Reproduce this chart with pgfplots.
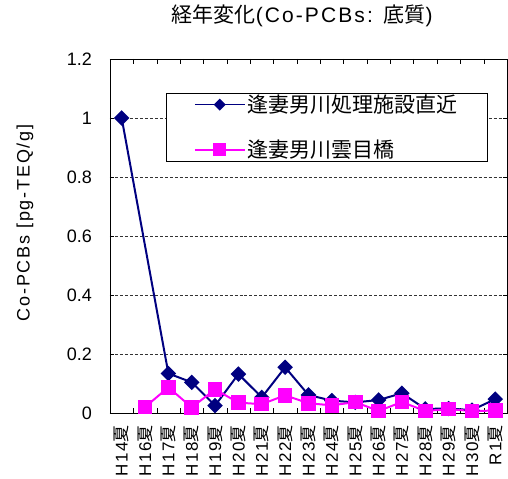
\documentclass[border=0pt]{standalone}
\usepackage{fontspec}
\setmainfont{Liberation Sans}
\newfontfamily\cjk{Noto Sans CJK JP}
\newfontfamily\wide{Liberation Sans}[LetterSpace=10]
\usepackage{pgfplots}
\pgfplotsset{compat=1.18}
\definecolor{navyc}{RGB}{0,0,128}
\definecolor{magc}{RGB}{255,0,255}
\newcommand{\nt}{{\cjk 夏}}
\begin{document}
\begin{tikzpicture}
\path[use as bounding box] (-110bp,-66bp) rectangle (398bp,413bp);
\begin{axis}[
  at={(0,0)}, anchor=south west,
  scale only axis, width=397bp, height=354bp,
  xmin=-0.5, xmax=16.5, ymin=0, ymax=1.2,
  xtick={0,...,16},
  xticklabels={H14\nt,H16\nt,H17\nt,H18\nt,H19\nt,H20\nt,H21\nt,H22\nt,H23\nt,H24\nt,H25\nt,H26\nt,H27\nt,H28\nt,H29\nt,H30\nt,R1\nt},
  xticklabel style={rotate=90, anchor=east, font=\fontsize{17bp}{17bp}\selectfont\wide, inner sep=0pt},
  xticklabel shift=12bp,
  major x tick style={draw=none},
  minor xtick={0.5,1.5,...,15.5},
  minor x tick style={black},
  minor tick length=5bp,
  ytick={0,0.2,...,1.2},
  yticklabel style={font=\fontsize{18bp}{18bp}\selectfont, /pgf/number format/fixed, inner sep=0pt},
  yticklabel shift=18bp,
  /pgf/number format/assume math mode=true,
  y tick style={black},
  tick align=inside,
  major tick length=4bp,
  ymajorgrids,
  grid style={black!80, densely dashed, line width=0.5pt},
  axis line style={black, line width=0.8pt},
  ylabel={Co-PCBs [pg-TEQ/g]},
  ylabel style={at={(axis description cs:-0.214,0.537)}, anchor=center, rotate=0, font=\fontsize{18bp}{18bp}\selectfont\wide},
  title={{\cjk 経年変化}(Co-PCBs: {\cjk 底質})},
  title style={at={(axis description cs:0.484,1.105)}, anchor=center, font=\fontsize{21bp}{21bp}\selectfont\wide},
  legend style={at={(0.952,0.905)}, anchor=north east, draw=black, line width=0.8pt,
    font=\fontsize{21bp}{21bp}\selectfont\cjk, row sep=22bp, inner xsep=28bp, inner ysep=0bp},
  legend cell align=left,
]
\addplot[navyc, line width=2pt, mark=square*, mark size=4.5bp, mark options={solid, fill=navyc, rotate=45},
  legend image code/.code={\draw[navyc, line width=1.6pt] (0bp,0bp) -- (50bp,0bp); \fill[navyc] (25bp,4.5bp) -- (29.5bp,0bp) -- (25bp,-4.5bp) -- (20.5bp,0bp) -- cycle;}] coordinates {
(0,1.0) (2,0.134) (3,0.104) (4,0.025) (5,0.132) (6,0.053) (7,0.155) (8,0.061) (9,0.042) (10,0.036) (11,0.044) (12,0.067) (13,0.014) (14,0.015) (15,0.010) (16,0.047)};
\addlegendentry{逢妻男川処理施設直近}
\addplot[magc, line width=2pt, mark=square*, mark size=6.3bp, mark options={solid, fill=magc},
  legend image code/.code={\draw[magc, line width=1.6pt] (0bp,0bp) -- (50bp,0bp); \fill[magc] (19.5bp,-5.5bp) rectangle (30.5bp,5.5bp);}] coordinates {
(1,0.020) (2,0.087) (3,0.019) (4,0.080) (5,0.035) (6,0.030) (7,0.060) (8,0.033) (9,0.026) (10,0.037) (11,0.007) (12,0.037) (13,0.007) (14,0.013) (15,0.007) (16,0.008)};
\addlegendentry{逢妻男川雲目橋}
\end{axis}
\end{tikzpicture}
\end{document}
